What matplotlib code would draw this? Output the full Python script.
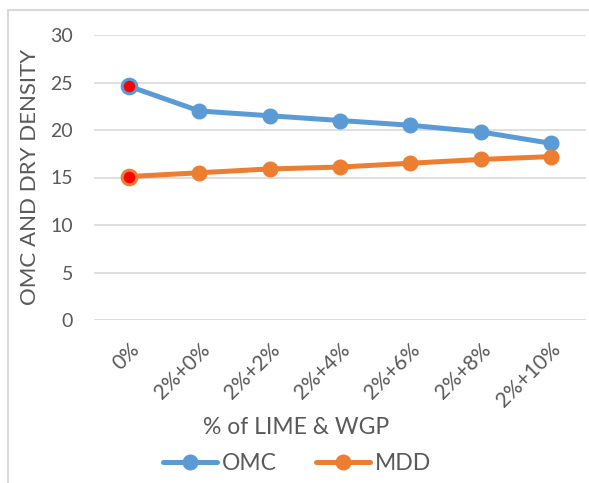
import matplotlib
matplotlib.use("Agg")
import matplotlib.pyplot as plt
from matplotlib.lines import Line2D

categories = ["0%", "2%+0%", "2%+2%", "2%+4%", "2%+6%", "2%+8%", "2%+10%"]
omc = [24.6, 22.0, 21.5, 21.0, 20.5, 19.8, 18.6]
mdd = [15.1, 15.5, 15.9, 16.1, 16.5, 16.9, 17.2]
y_ticks = [0, 5, 10, 15, 20, 25, 30]

BLUE = "#5B9BD5"
ORANGE = "#ED7D31"
RED = "#FF0000"
TEXT = "#595959"
GRID = "#D9D9D9"

plt.rcParams["font.family"] = ["Lato", "DejaVu Sans"]

W, H = 589, 483
fig = plt.figure(figsize=(W / 100, H / 100), dpi=100)
fig.patch.set_facecolor("white")

# chart frame (left and top edges visible)
fig.add_artist(Line2D([8 / W, 8 / W], [0, 1 - 10 / H], transform=fig.transFigure,
                      color=GRID, lw=1.5))
fig.add_artist(Line2D([8 / W, 1], [1 - 10 / H, 1 - 10 / H], transform=fig.transFigure,
                      color=GRID, lw=1.5))

ax = fig.add_axes([94 / W, 1 - 320 / H, (586 - 94) / W, (320 - 35) / H])
x = list(range(len(categories)))

ax.plot(x, omc, color=BLUE, lw=3.6, marker="o", ms=10.5, mfc=BLUE, mec=BLUE,
        solid_capstyle="round", zorder=3, label="OMC")
ax.plot(x, mdd, color=ORANGE, lw=3.6, marker="o", ms=10.5, mfc=ORANGE, mec=ORANGE,
        solid_capstyle="round", zorder=3, label="MDD")

# highlighted control points
ax.plot(x[0], omc[0], "o", ms=10.5, mfc=RED, mec=BLUE, mew=2.2, zorder=4)
ax.plot(x[0], mdd[0], "o", ms=10.5, mfc=RED, mec=ORANGE, mew=2.2, zorder=4)

ax.set_xlim(-0.5, len(categories) - 0.5)
ax.set_ylim(0, 30)
ax.set_yticks(y_ticks)
ax.set_xticks(x)
ax.set_xticklabels(categories, rotation=45, ha="right", va="top",
                   rotation_mode="anchor", fontsize=15, color=TEXT)
for lbl in ax.get_yticklabels():
    lbl.set_fontsize(14)
    lbl.set_color(TEXT)
ax.tick_params(axis="both", length=0)
ax.tick_params(axis="y", pad=15)
ax.tick_params(axis="x", pad=14)
ax.grid(axis="y", color=GRID, lw=1.2)
ax.set_axisbelow(True)
for s in ax.spines.values():
    s.set_visible(False)

fig.text(30 / W, 1 - 177 / H, "OMC AND DRY DENSITY", rotation=90, ha="center",
         va="center", fontsize=16, color=TEXT)
fig.text(296 / W, 1 - 428 / H, "% of LIME & WGP", ha="center", va="center",
         fontsize=16.5, color=TEXT)

leg = fig.legend(handles=ax.get_lines()[:2], loc="center",
                 bbox_to_anchor=(297 / W, 1 - 464 / H), ncol=2, frameon=False,
                 fontsize=16.5, handlelength=2.35, columnspacing=1.75, handletextpad=0.2)
for t in leg.get_texts():
    t.set_color(TEXT)

fig.savefig("out.png", dpi=100, facecolor="white")
